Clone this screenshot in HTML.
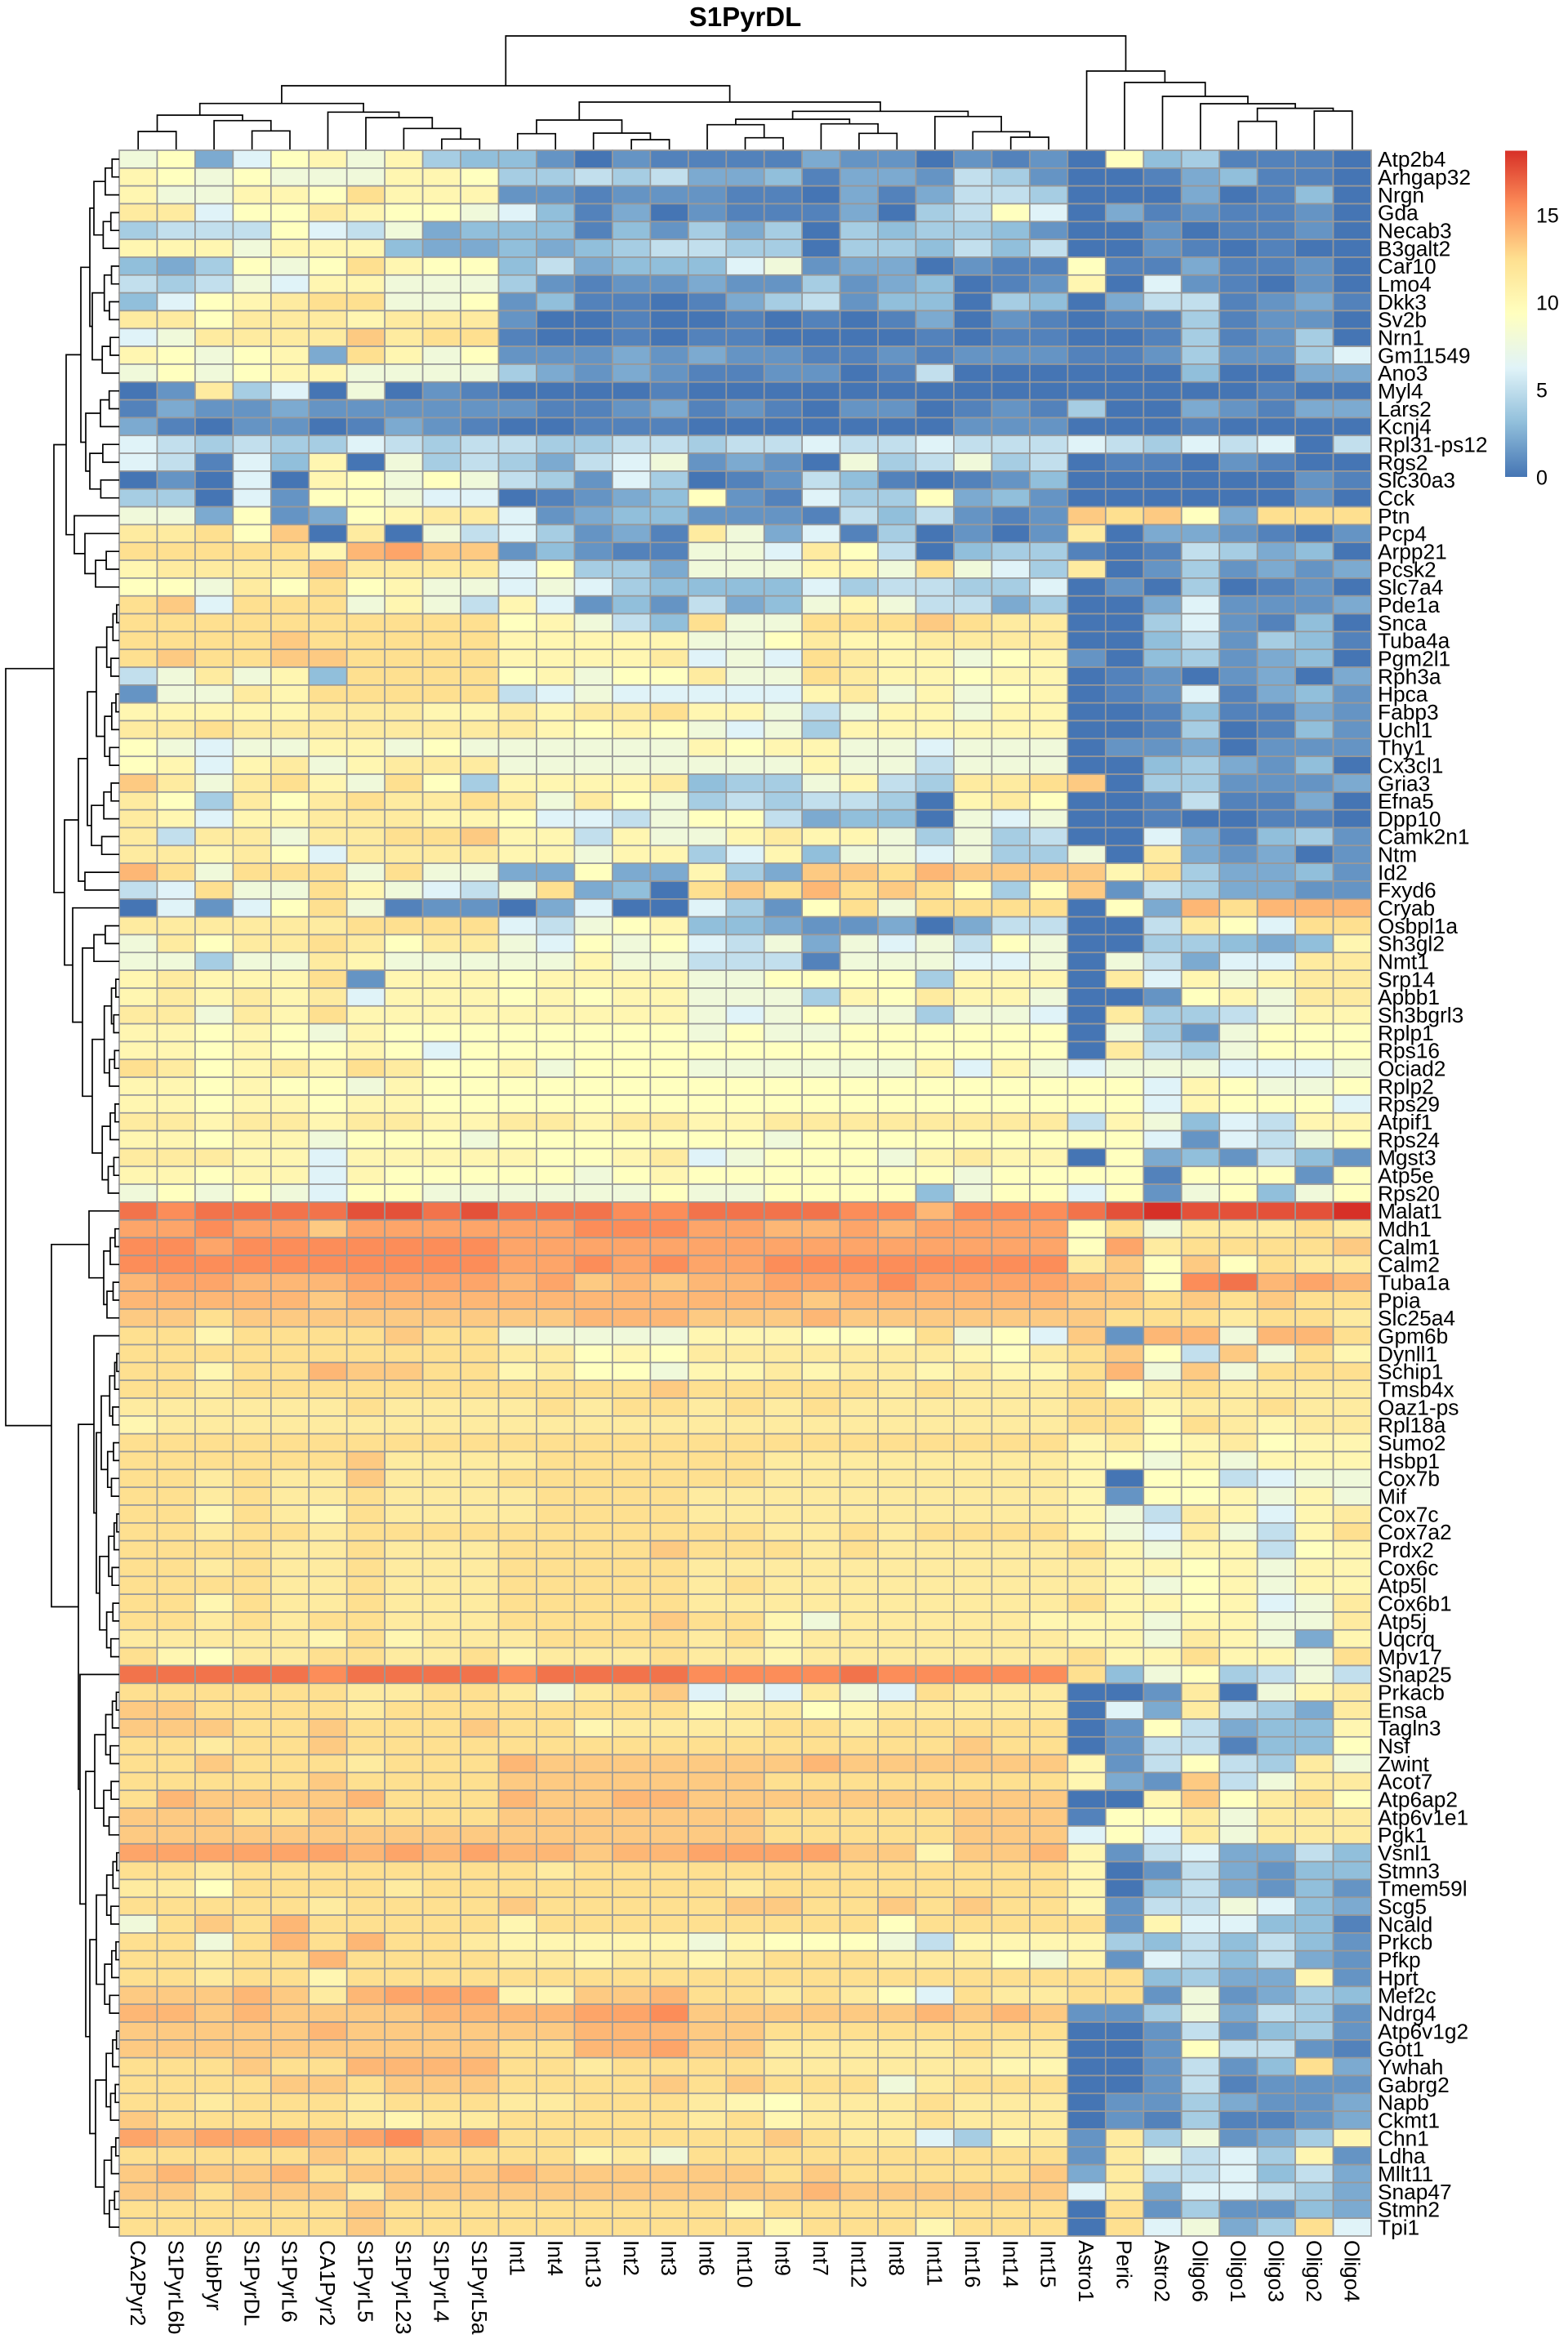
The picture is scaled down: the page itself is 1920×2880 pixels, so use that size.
<!DOCTYPE html>
<html><head><meta charset="utf-8">
<style>
html,body{margin:0;padding:0;background:#fff;}
svg{display:block;}
text{font-family:"Liberation Sans",Arial,Helvetica,sans-serif;fill:#000;}
</style></head><body>
<svg id="s" xmlns="http://www.w3.org/2000/svg" width="1920" height="2880" viewBox="0 0 1920 2880">
<rect width="1920" height="2880" fill="#fff"/>
<defs><linearGradient id="lg" x1="0" y1="1" x2="0" y2="0">
<stop offset="0" stop-color="#4575B4"/><stop offset="0.1667" stop-color="#91BFDB"/><stop offset="0.3333" stop-color="#E0F3F8"/><stop offset="0.5" stop-color="#FFFFBF"/><stop offset="0.6667" stop-color="#FEE090"/><stop offset="0.8333" stop-color="#FC8D59"/><stop offset="1" stop-color="#D73027"/>
</linearGradient></defs>
<g id="hm" stroke="#999999" stroke-width="1.7"></g>
<path id="cd" stroke="#000" stroke-width="1.7" fill="none" d=""/>
<path id="rd" stroke="#000" stroke-width="1.7" fill="none" d=""/>
<text x="912.5" y="32" font-size="33" font-weight="bold" text-anchor="middle">S1PyrDL</text>
<rect x="1843" y="184.5" width="27" height="399.5" fill="url(#lg)"/>
<text font-size="25" x="1881"><tspan x="1881" y="272.3">15</tspan><tspan x="1881" y="379.6">10</tspan><tspan x="1881" y="486.6">5</tspan><tspan x="1881" y="593.5">0</tspan></text>
<text font-size="26.3"><tspan x="1687" y="204.2">Atp2b4</tspan><tspan x="1687" dy="21.83">Arhgap32</tspan><tspan x="1687" dy="21.83">Nrgn</tspan><tspan x="1687" dy="21.83">Gda</tspan><tspan x="1687" dy="21.83">Necab3</tspan><tspan x="1687" dy="21.83">B3galt2</tspan><tspan x="1687" dy="21.83">Car10</tspan><tspan x="1687" dy="21.83">Lmo4</tspan><tspan x="1687" dy="21.83">Dkk3</tspan><tspan x="1687" dy="21.83">Sv2b</tspan><tspan x="1687" dy="21.83">Nrn1</tspan><tspan x="1687" dy="21.83">Gm11549</tspan><tspan x="1687" dy="21.83">Ano3</tspan><tspan x="1687" dy="21.83">Myl4</tspan><tspan x="1687" dy="21.83">Lars2</tspan><tspan x="1687" dy="21.83">Kcnj4</tspan><tspan x="1687" dy="21.83">Rpl31-ps12</tspan><tspan x="1687" dy="21.83">Rgs2</tspan><tspan x="1687" dy="21.83">Slc30a3</tspan><tspan x="1687" dy="21.83">Cck</tspan><tspan x="1687" dy="21.83">Ptn</tspan><tspan x="1687" dy="21.83">Pcp4</tspan><tspan x="1687" dy="21.83">Arpp21</tspan><tspan x="1687" dy="21.83">Pcsk2</tspan><tspan x="1687" dy="21.83">Slc7a4</tspan><tspan x="1687" dy="21.83">Pde1a</tspan><tspan x="1687" dy="21.83">Snca</tspan><tspan x="1687" dy="21.83">Tuba4a</tspan><tspan x="1687" dy="21.83">Pgm2l1</tspan><tspan x="1687" dy="21.83">Rph3a</tspan><tspan x="1687" dy="21.83">Hpca</tspan><tspan x="1687" dy="21.83">Fabp3</tspan><tspan x="1687" dy="21.83">Uchl1</tspan><tspan x="1687" dy="21.83">Thy1</tspan><tspan x="1687" dy="21.83">Cx3cl1</tspan><tspan x="1687" dy="21.83">Gria3</tspan><tspan x="1687" dy="21.83">Efna5</tspan><tspan x="1687" dy="21.83">Dpp10</tspan><tspan x="1687" dy="21.83">Camk2n1</tspan><tspan x="1687" dy="21.83">Ntm</tspan><tspan x="1687" dy="21.83">Id2</tspan><tspan x="1687" dy="21.83">Fxyd6</tspan><tspan x="1687" dy="21.83">Cryab</tspan><tspan x="1687" dy="21.83">Osbpl1a</tspan><tspan x="1687" dy="21.83">Sh3gl2</tspan><tspan x="1687" dy="21.83">Nmt1</tspan><tspan x="1687" dy="21.83">Srp14</tspan><tspan x="1687" dy="21.83">Apbb1</tspan><tspan x="1687" dy="21.83">Sh3bgrl3</tspan><tspan x="1687" dy="21.83">Rplp1</tspan><tspan x="1687" dy="21.83">Rps16</tspan><tspan x="1687" dy="21.83">Ociad2</tspan><tspan x="1687" dy="21.83">Rplp2</tspan><tspan x="1687" dy="21.83">Rps29</tspan><tspan x="1687" dy="21.83">Atpif1</tspan><tspan x="1687" dy="21.83">Rps24</tspan><tspan x="1687" dy="21.83">Mgst3</tspan><tspan x="1687" dy="21.83">Atp5e</tspan><tspan x="1687" dy="21.83">Rps20</tspan><tspan x="1687" dy="21.83">Malat1</tspan><tspan x="1687" dy="21.83">Mdh1</tspan><tspan x="1687" dy="21.83">Calm1</tspan><tspan x="1687" dy="21.83">Calm2</tspan><tspan x="1687" dy="21.83">Tuba1a</tspan><tspan x="1687" dy="21.83">Ppia</tspan><tspan x="1687" dy="21.83">Slc25a4</tspan><tspan x="1687" dy="21.83">Gpm6b</tspan><tspan x="1687" dy="21.83">Dynll1</tspan><tspan x="1687" dy="21.83">Schip1</tspan><tspan x="1687" dy="21.83">Tmsb4x</tspan><tspan x="1687" dy="21.83">Oaz1-ps</tspan><tspan x="1687" dy="21.83">Rpl18a</tspan><tspan x="1687" dy="21.83">Sumo2</tspan><tspan x="1687" dy="21.83">Hsbp1</tspan><tspan x="1687" dy="21.83">Cox7b</tspan><tspan x="1687" dy="21.83">Mif</tspan><tspan x="1687" dy="21.83">Cox7c</tspan><tspan x="1687" dy="21.83">Cox7a2</tspan><tspan x="1687" dy="21.83">Prdx2</tspan><tspan x="1687" dy="21.83">Cox6c</tspan><tspan x="1687" dy="21.83">Atp5l</tspan><tspan x="1687" dy="21.83">Cox6b1</tspan><tspan x="1687" dy="21.83">Atp5j</tspan><tspan x="1687" dy="21.83">Uqcrq</tspan><tspan x="1687" dy="21.83">Mpv17</tspan><tspan x="1687" dy="21.83">Snap25</tspan><tspan x="1687" dy="21.83">Prkacb</tspan><tspan x="1687" dy="21.83">Ensa</tspan><tspan x="1687" dy="21.83">Tagln3</tspan><tspan x="1687" dy="21.83">Nsf</tspan><tspan x="1687" dy="21.83">Zwint</tspan><tspan x="1687" dy="21.83">Acot7</tspan><tspan x="1687" dy="21.83">Atp6ap2</tspan><tspan x="1687" dy="21.83">Atp6v1e1</tspan><tspan x="1687" dy="21.83">Pgk1</tspan><tspan x="1687" dy="21.83">Vsnl1</tspan><tspan x="1687" dy="21.83">Stmn3</tspan><tspan x="1687" dy="21.83">Tmem59l</tspan><tspan x="1687" dy="21.83">Scg5</tspan><tspan x="1687" dy="21.83">Ncald</tspan><tspan x="1687" dy="21.83">Prkcb</tspan><tspan x="1687" dy="21.83">Pfkp</tspan><tspan x="1687" dy="21.83">Hprt</tspan><tspan x="1687" dy="21.83">Mef2c</tspan><tspan x="1687" dy="21.83">Ndrg4</tspan><tspan x="1687" dy="21.83">Atp6v1g2</tspan><tspan x="1687" dy="21.83">Got1</tspan><tspan x="1687" dy="21.83">Ywhah</tspan><tspan x="1687" dy="21.83">Gabrg2</tspan><tspan x="1687" dy="21.83">Napb</tspan><tspan x="1687" dy="21.83">Ckmt1</tspan><tspan x="1687" dy="21.83">Chn1</tspan><tspan x="1687" dy="21.83">Ldha</tspan><tspan x="1687" dy="21.83">Mllt11</tspan><tspan x="1687" dy="21.83">Snap47</tspan><tspan x="1687" dy="21.83">Stmn2</tspan><tspan x="1687" dy="21.83">Tpi1</tspan></text>
<text font-size="26.3" transform="translate(0,2743) rotate(90)"><tspan x="0" y="-159.9">CA2Pyr2</tspan><tspan x="0" dy="-46.45">S1PyrL6b</tspan><tspan x="0" dy="-46.45">SubPyr</tspan><tspan x="0" dy="-46.45">S1PyrDL</tspan><tspan x="0" dy="-46.45">S1PyrL6</tspan><tspan x="0" dy="-46.45">CA1Pyr2</tspan><tspan x="0" dy="-46.45">S1PyrL5</tspan><tspan x="0" dy="-46.45">S1PyrL23</tspan><tspan x="0" dy="-46.45">S1PyrL4</tspan><tspan x="0" dy="-46.45">S1PyrL5a</tspan><tspan x="0" dy="-46.45">Int1</tspan><tspan x="0" dy="-46.45">Int4</tspan><tspan x="0" dy="-46.45">Int13</tspan><tspan x="0" dy="-46.45">Int2</tspan><tspan x="0" dy="-46.45">Int3</tspan><tspan x="0" dy="-46.45">Int6</tspan><tspan x="0" dy="-46.45">Int10</tspan><tspan x="0" dy="-46.45">Int9</tspan><tspan x="0" dy="-46.45">Int7</tspan><tspan x="0" dy="-46.45">Int12</tspan><tspan x="0" dy="-46.45">Int8</tspan><tspan x="0" dy="-46.45">Int11</tspan><tspan x="0" dy="-46.45">Int16</tspan><tspan x="0" dy="-46.45">Int14</tspan><tspan x="0" dy="-46.45">Int15</tspan><tspan x="0" dy="-46.45">Astro1</tspan><tspan x="0" dy="-46.45">Peric</tspan><tspan x="0" dy="-46.45">Astro2</tspan><tspan x="0" dy="-46.45">Oligo6</tspan><tspan x="0" dy="-46.45">Oligo1</tspan><tspan x="0" dy="-46.45">Oligo3</tspan><tspan x="0" dy="-46.45">Oligo2</tspan><tspan x="0" dy="-46.45">Oligo4</tspan></text>
</svg>
<script>
(function(){
var D=[
"ijdhjkikfeecacbbb|bdccacb|cajefbbba",
"kjijiiikkjffgfgdd|ebddcgf|caabdebba",
"kiikkjmkkkccbcccb|badbdgg|faaadabea",
"llhjjlkjjihebdacb|bbdafgj|hadbcbbca",
"fgggjhgideeebecfd|fafeffe|caacabbca",
"kkkikkkeddedefggf|faffege|gaacbabaa",
"edfjijmkjjegdeeeh|icddacb|bjbbdbbca",
"gfgihkkiiifcbccdc|cfcdeab|ckahcbaca",
"ehjklmmiijcebbabd|fgceeaf|eadggbcdb",
"lljlllklllcaabaab|ababdac|babbfbcca",
"hillllnlmmbaababb|aaaabab|baabfbcfa",
"kjijkdmkijcccdcdc|cbbcbcc|cbbcfccfh",
"ijijkkiiiifdcdcbb|ccabgaa|aaaaeaadd",
"aclfhaiacbaaaabaa|aaaaaaa|aaaaaabaa",
"bdccdccccccbbcdbc|baccabc|bfaadcbdd",
"dbaccabdcbaabbbaa|aaaaacc|caaabaaaa",
"hgfgffhgfggffggfg|ghgghgg|ghgfhghag",
"hgbhekaifgfdghicd|caifgif|gabbacbaa",
"acahakjijigfchfab|cgebabc|eaaaaaacb",
"ffahcjjihhabcdejc|bhffjde|caaaaaaca",
"iidjcdjkllhcdeecc|cbgegcb|cnmnjdmmm",
"llmjnalaighfcdbli|dhbfaca|claddcbac",
"mmmmmkopnncecbbii|hljgaef|fbabgfdea",
"kllllnllllhjffdii|ikkimih|flacfcdcd",
"jjiljmjkiihihfeee|ehfggff|hacafabca",
"mnhmmmikigkhcecgd|eikiggd|faadhcccd",
"mmmmmmmmmmjkigemi|immmnml|laafhcbea",
"mmmmnmmmmmkkkkkii|jlkklll|laaegcfeb",
"mnmmnnmmmmkkkklhi|hmlkkij|kcaefcdea",
"gilikemmmmjkijjli|imlkkjk|kabcacdad",
"ciilkmmmmmghihhhh|hklikij|kabchbdec",
"kkkkklllkklkllmkk|igikkik|kaabebbdc",
"llmllllllllkjkjih|ifkkkkk|kaabfabec",
"jihiikkijiiiiiikj|kkiihii|iaccdaccc",
"jkhklikllliiiiiii|ikiigii|iaaefdcea",
"nlilmkimjfkkkklef|fikgfll|mnaffcccd",
"ljfljlmllmliljifg|fggfakl|jaabgbbda",
"lkhkklllkkjhhgijj|gdeeaih|iaabaabba",
"lgllillmmnkkgkiik|lkkifif|gaahdbefc",
"llkljhllllkkikkfh|keiihif|fialdcdac",
"omimmmimiiddjddkf|dnnmonn|nnkmfddec",
"ghmiimkihgimdeamn|momnmjf|jncgfddcc",
"ahchjmibccadhaahf|cjmimmm|majdomooo",
"llllllmmmmhgijkee|dccdadg|gaagljhmm",
"iljllmljllihjijhg|idihigj|iaaffedek",
"iifiilkiiiiikiigg|gbiiihh|iaigdhhll",
"klkkkmckkkjkkkkii|jjjjfkk|kalhkikll",
"klklklhkkkjkjkkii|ifkjlkk|iaacjkill",
"llilkmkkkkkkkkkih|ijiifii|halffgikk",
"kkjkjikjjjjjjjjij|iijjjjj|jaifcijjj",
"kkjkjjkjhjjjjjjjj|jjjjjjj|jalgfijjj",
"mljklkmljjkijjjii|iiiikhk|ihiiihhhi",
"kkjkjjikjjjjjjjjj|jjjjjjj|jjjhkjiij",
"kkjkkjkkjjjjjjjjj|jjjjjjj|jjjhkjjjh",
"llkllkllkkllkllkk|lllllll|lgkiehgkk",
"kkjkkijjjijjjjjjj|ijjjjjj|jjjhchgij",
"lllkkhkkkkkjjklhi|jjjiklk|kajdecgec",
"kkjkkhkjjjjjijkjj|jjjjjij|jjjbjjjcj",
"ijijihjjiiiiiijii|jjjjeij|jhjcijeij",
"rqrrrrssrsrrrqqrr|rrqqoqqq|rstsssst",
"ppqppnppppppqqqpp|oopopppp|jmilllml",
"qqpqqqqqqqppppppp|pppppppp|jplmmmmn",
"qqqqqqqqqqppqpqpp|qqqqqqqq|lnjnjmll",
"oppoooppppopnonoo|pppqpppp|onjqropo",
"ooooonooooooooooo|onoooooo|nnmnmnmm",
"nnmnnnnnnnnnooonn|nonnnnnn|nmmmlmml",
"mmkmmmmnmmiiiiikk|kjjjmijh|ncooioom",
"mmmmmmmmmmlljkjll|lllllkjl|mnjgnimk",
"mmkmmonnmmkljjikk|lkllklkk|moinimmm",
"mmlmmmmmmmmmmmnmm|mmmlmlll|mjlmllll",
"llllllmllllmlmmlm|lmllllll|mmkllmll",
"kllllllllllllllll|llllllll|mmjmlkll",
"mmmmmmmmmmmmmmmmm|mmmmmmmm|kljkljkk",
"mmmmmmnllllmmmmmm|llllllll|kjikikkk",
"mmlmllnlllmmmmmmm|llllllll|kajjghii",
"mmlmllmllllmmmmll|llllllll|kcjjkiki",
"mmkmlkmllllmmmmll|llllllll|kiglkhkl",
"mmlmmlmmmmmmmmmmm|llmlmmmm|kihligkm",
"mmmmllmlllmmmmnmm|mlmlllll|mkikkgjk",
"mmlmllmlllmmmmmll|llllllll|lkkjkikk",
"mmmmllmlllmmmmmlm|llllllll|lkijkikk",
"mmkmllmlllmmmmmll|llllllll|mkkjkhil",
"mmlmlmmlllmmmmnmm|killlllk|kkikkiil",
"lllllkmklllmmmmlm|klllllll|kkilkidk",
"mkjllmmllmklllmll|klllllll|mkkmkkim",
"rrrrrqrrrrqrrrrqq|qqrqqqqq|meijfgig",
"mmmmmmllmmlilmnhi|hlihmlll|aaclaikl",
"nnmmmmlmmmmmmmmkl|ljklllll|ahdlgfdl",
"nnnmmnmmmnmmkllll|mmlmmmmm|acjgdeek",
"mmlmmnmmmmmmmmmmm|mmmmmnmm|acggbeej",
"mmnmmmlmmmonnnnnn|nonnnnnn|kcgjgfli",
"mmmmmnmmmmnnnnnnn|mmmmmmmm|kdcngill",
"monnnnommmonnoonn|nnnnnnnn|aaknjlmj",
"nnnmmnmmmmnnnnnnn|mmmmmnnn|bjjlilll",
"nnnnnnnnnnnnnnnnn|mmmmmnnn|hjhlilll",
"ppppppopopoonoopp|ppnnknno|kcghddge",
"mmlmmmmmmmmlmmmmm|mmmmmmmm|kacgdcee",
"lljmmmmlmmmmmmmml|mmmmmmmm|kaegdcec",
"mmmmmlmmmmnmmmmmn|nmmnmnmm|kcggihed",
"imnmommmmmkmmmmmm|mmmjmmmm|mckhheeb",
"mmimomommlkkkkkik|jjjigkkk|kfegegec",
"mmlmmommmmllkllkl|mmmlllji|kchgegdc",
"mmlmmkmmmmmmmmmmm|mmmmmmmm|mmefddkc",
"nnnonlopppkknnomm|lmljhmll|mmcicdfe",
"oononnnnooooppqnn|nnnnonon|ccfidgfc",
"nnnnnonnnnnnooonn|mmmmmmmm|aacgcefc",
"nnnnnnnnnnmmoopnn|lllllmll|aacjggcb",
"mmmnmmoooommlmmmm|llllllkk|aacgcemd",
"mmmmnnmnnnmmmmnmn|mmmilmmm|aacgbccc",
"mmlmmmlmmmllmmmlk|jlllmlll|accfdccd",
"nmmmmmlkllmmmmmlm|klllmlll|acbfbbcd",
"popppopqopmmmmmmm|nmllhfkl|clficdfk",
"mmmmmnmmmmmmklimm|mmmmmmmm|clighfkc",
"nonnomnnnnonnnnnn|mnmmmmmn|dlgghegd",
"nnmnnnlnnnnnnnnnn|nonnnnnn|hldhhgfd",
"mmmmmmnmmmmmmmmmk|mmmmmmmm|amcfcced",
"mmmmmmnmmmmmmmmmm|kmmmkmmm|amhidfmh"
];
var F={a:0,b:.03,c:.07,d:.12,e:.167,f:.21,g:.27,h:.333,i:.42,j:.5,k:.55,l:.61,m:.667,n:.71,o:.75,p:.785,q:.833,r:.88,s:.94,t:1};
var S=[[69,117,180],[145,191,219],[224,243,248],[255,255,191],[254,224,144],[252,141,89],[215,48,39]];
function col(f){var p=f*6,i=Math.min(5,Math.floor(p)),t=p-i,a=S[i],b=S[i+1];
 return 'rgb('+Math.round(a[0]+(b[0]-a[0])*t)+','+Math.round(a[1]+(b[1]-a[1])*t)+','+Math.round(a[2]+(b[2]-a[2])*t)+')';}
function fit(s,n){s=s||'';while(s.length<n)s+=s.length?s[s.length-1]:'k';return s.slice(0,n);}
var X0=146,Y0=184,W=(1679-146)/33,H=(2738-184)/117;
var h='';
for(var r=0;r<117;r++){
 var parts=(D[r]||'').split('|');var L=r<59?[17,7,9]:[17,8,8];
 var s=fit(parts[0],L[0])+fit(parts[1],L[1])+fit(parts[2],L[2]);
 for(var c=0;c<33;c++){var ch=s[c];var f=(ch in F)?F[ch]:.55;
  h+='<rect x="'+(X0+c*W).toFixed(2)+'" y="'+(Y0+r*H).toFixed(2)+'" width="'+W.toFixed(2)+'" height="'+H.toFixed(2)+'" fill="'+col(f)+'"/>';}
}
document.getElementById('hm').innerHTML=h;

/* row dendrogram */
function N(x,a,b){return {x:x,c:[a,b]};}
function RY(k){return Y0+(k-0.5)*H;}
function A(a,b,x){if(a===b)return a;var m=a+Math.floor((b-a)/2);var cx=x+(146-x)*0.4;
 return N(x,A(a,m,Math.min(143,cx+1.5)),A(m+1,b,Math.min(143,cx-1)));}
var RT=N(7,
 N(66,
  N(81,
   N(99,N(110,A(1,6,115),A(7,13,113)),N(105,A(14,16,123),A(17,20,110))),
   N(91,21,N(104,22,A(23,25,117)))),
  N(79,
   N(96,N(107,A(26,35,118),A(36,40,112)),N(104,41,42)),
   N(89,43,N(101,A(44,46,115),A(47,59,113))))),
 N(63,
  N(109,60,N(127,A(61,63,135),A(64,66,131))),
  N(96,N(115,67,N(118,A(68,76,124),A(77,85,122))),
       N(98,86,N(105,A(87,95,116),N(110,A(96,105,118),A(106,117,117)))))));
var rp='';
function dr(n){if(typeof n==='number')return {x:146,y:RY(n)};
 var p=dr(n.c[0]),q=dr(n.c[1]);
 rp+='M'+p.x.toFixed(1)+' '+p.y.toFixed(1)+'H'+n.x+'V'+q.y.toFixed(1)+'H'+q.x.toFixed(1);
 return {x:n.x,y:(p.y+q.y)/2};}
dr(RT);
document.getElementById('rd').setAttribute('d',rp);

/* column dendrogram */
function C(y,a,b){return {y:y,c:[a,b]};}
function CX(i){return X0+(i-0.5)*W;}
var CT=C(44,
 C(105,
  C(126.7,C(141,C(161,1,2),C(147.7,3,C(160.3,4,5))),C(137.3,6,C(144,7,C(157.3,8,C(170.3,9,10))))),
  C(125,C(147,C(163.7,11,12),C(163,13,C(171,14,15))),
        C(136.3,C(146,C(152.7,16,C(168.7,17,18)),C(151.7,19,C(163.3,20,21))),C(142.7,22,C(161.3,23,C(168,24,25)))))),
 C(87,26,C(101,27,C(118,28,C(127,29,C(132.6,C(148.6,30,31),C(136,32,33)))))));
var cp='';
function dc(n){if(typeof n==='number')return {x:CX(n),y:183};
 var p=dc(n.c[0]),q=dc(n.c[1]);
 cp+='M'+p.x.toFixed(1)+' '+p.y+'V'+n.y+'H'+q.x.toFixed(1)+'V'+q.y;
 return {x:(p.x+q.x)/2,y:n.y};}
dc(CT);
document.getElementById('cd').setAttribute('d',cp);
})();
</script>
</body></html>
